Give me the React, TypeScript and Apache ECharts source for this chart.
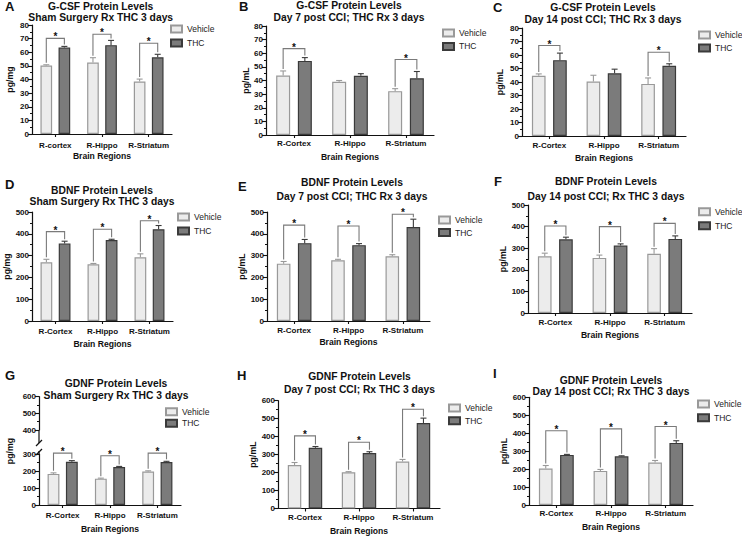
import React, { useEffect, useRef } from 'react';
import * as echarts from 'echarts';

const FONT = '"Liberation Sans", Arial, Helvetica, sans-serif';

// ---- categories ----
const CATS_A = ['R-cortex', 'R-Hippo', 'R-Striatum'];
const CATS = ['R-Cortex', 'R-Hippo', 'R-Striatum'];
const SERIES_NAMES = ['Vehicle', 'THC'];

// ---- A: G-CSF sham ----
const A_VEH = [50.2, 52.4, 38.5];
const A_VEH_ERR = [50.8, 56.0, 40.3];
const A_THC = [63.4, 65.2, 56.3];
const A_THC_ERR = [64.3, 68.7, 58.5];
const A_SIG = [70.2, 73.2, 66.6];

// ---- B: G-CSF day 7 ----
const B_VEH = [43.7, 39.0, 32.2];
const B_VEH_ERR = [47.0, 40.0, 34.0];
const B_THC = [54.4, 43.4, 41.7];
const B_THC_ERR = [56.8, 45.0, 46.6];
const B_SIG = [63.4, null, 55.4];

// ---- C: G-CSF day 14 ----
const C_VEH = [44.6, 40.4, 38.6];
const C_VEH_ERR = [46.0, 45.0, 43.0];
const C_THC = [56.2, 46.5, 52.0];
const C_THC_ERR = [61.4, 49.5, 53.5];
const C_SIG = [67.0, null, 62.0];

// ---- D: BDNF sham ----
const D_VEH = [269, 260, 292];
const D_VEH_ERR = [283, 264, 308];
const D_THC = [356, 371, 421];
const D_THC_ERR = [366, 375, 438];
const D_SIG = [410, 421, 460];

// ---- E: BDNF day 7 ----
const E_VEH = [263, 279, 297];
const E_VEH_ERR = [273, 283, 304];
const E_THC = [357, 348, 431];
const E_THC_ERR = [374, 355, 467];
const E_SIG = [440, 436, 490];

// ---- F: BDNF day 14 ----
const F_VEH = [263, 255, 274];
const F_VEH_ERR = [277, 268, 298];
const F_THC = [341, 312, 343];
const F_THC_ERR = [351, 320, 357];
const F_SIG = [403, 400, 415];

// ---- G: GDNF sham ----
const G_VEH = [183, 155, 197];
const G_VEH_ERR = [189, 158, 201];
const G_THC = [254, 223, 253];
const G_THC_ERR = [261, 227, 257];
const G_SIG = [305, 290, 305];

// ---- H: GDNF day 7 ----
const H_VEH = [242, 202, 262];
const H_VEH_ERR = [256, 205, 273];
const H_THC = [338, 309, 476];
const H_THC_ERR = [345, 316, 503];
const H_SIG = [404, 369, 552];

// ---- I: GDNF day 14 ----
const I_VEH = [203, 190, 237];
const I_VEH_ERR = [220, 198, 248];
const I_THC = [279, 271, 346];
const I_THC_ERR = [282, 274, 358];
const I_SIG = [414, 424, 437];

// ---- tick settings ----
const GCSF_MAX = 80, GCSF_STEP = 10;
const BDNF_MAX = 500, BDNF_STEP = 100;
const GDNF_MAX = 600, GDNF_STEP = 100;
const G_LOWER_MAX = 300, G_UPPER_MIN = 400;

const BAR_W = 0.25;
const BAR_GAP = 0.55;

const VEH_FILL = '#ececec', VEH_LINE = '#999999';
const THC_FILL = '#7b7b7b', THC_LINE = '#3a3a3a';
const BRACKET = '#7a7a7a';
const INK = '#111111';

const panels = [
  { letter: 'A', lp: [5, 6.5], title: ['G-CSF Protein Levels', 'Sham Surgery Rx THC 3 days'], tp: [100.7, 6, 17.5],
    cats: CATS_A, unit: 'pg/mg', veh: A_VEH, vehErr: A_VEH_ERR, thc: A_THC, thcErr: A_THC_ERR, sig: A_SIG,
    max: GCSF_MAX, step: GCSF_STEP, grid: [32, 25, 140, 109], leg: [170, 24, 4], yGap: 18, lblM: 7, xGap: 17.5 },
  { letter: 'B', lp: [239, 6.5], title: ['G-CSF Protein Levels', 'Day 7 post CCI; THC Rx 3 days'], tp: [349, 5.7, 17.3],
    cats: CATS, unit: 'pg/mL', veh: B_VEH, vehErr: B_VEH_ERR, thc: B_THC, thcErr: B_THC_ERR, sig: B_SIG,
    max: GCSF_MAX, step: GCSF_STEP, grid: [266, 26, 168, 109], leg: [442, 28, 3.4], yGap: 15, lblM: 4.5, xGap: 17 },
  { letter: 'C', lp: [493, 7], title: ['G-CSF Protein Levels', 'Day 14 post CCI; THC Rx 3 days'], tp: [603, 7.3, 19.3],
    cats: CATS, unit: 'pg/mL', veh: C_VEH, vehErr: C_VEH_ERR, thc: C_THC, thcErr: C_THC_ERR, sig: C_SIG,
    max: GCSF_MAX, step: GCSF_STEP, grid: [522, 28, 164, 108], leg: [698, 30, 3], yGap: 18, lblM: 5.5, xGap: 17 },
  { letter: 'D', lp: [5, 184], title: ['BDNF Protein Levels', 'Sham Surgery Rx THC 3 days'], tp: [102, 190, 201.7],
    cats: CATS, unit: 'pg/mg', veh: D_VEH, vehErr: D_VEH_ERR, thc: D_THC, thcErr: D_THC_ERR, sig: D_SIG,
    max: BDNF_MAX, step: BDNF_STEP, grid: [32, 212, 141, 109], leg: [177, 212, 4], yGap: 20, lblM: 6, xGap: 18 },
  { letter: 'E', lp: [238, 186], title: ['BDNF Protein Levels', 'Day 7 post CCI; THC Rx 3 days'], tp: [352, 182.3, 196.7],
    cats: CATS, unit: 'pg/mL', veh: E_VEH, vehErr: E_VEH_ERR, thc: E_THC, thcErr: E_THC_ERR, sig: E_SIG,
    max: BDNF_MAX, step: BDNF_STEP, grid: [267, 212, 163, 109], leg: [438, 215, 2.5], yGap: 19, lblM: 5, xGap: 16.5 },
  { letter: 'F', lp: [494, 181.7], title: ['BDNF Protein Levels', 'Day 14 post CCI; Rx THC 3 days'], tp: [606, 181.7, 196],
    cats: CATS, unit: 'pg/mL', veh: F_VEH, vehErr: F_VEH_ERR, thc: F_THC, thcErr: F_THC_ERR, sig: F_SIG,
    max: BDNF_MAX, step: BDNF_STEP, grid: [528, 205, 164, 108], leg: [698, 206.7, 4], yGap: 18, lblM: 5, xGap: 17 },
  { letter: 'G', lp: [5, 375], title: ['GDNF Protein Levels', 'Sham Surgery Rx THC 3 days'], tp: [116, 383.3, 395.7],
    cats: CATS, unit: '', veh: G_VEH, vehErr: G_VEH_ERR, thc: G_THC, thcErr: G_THC_ERR, sig: G_SIG,
    max: G_LOWER_MAX, step: GDNF_STEP, grid: [39, 454, 142, 51], leg: [165, 406.7, 1.6], yGap: 20, lblM: 6, xGap: 19 },
  { letter: 'H', lp: [237, 375], title: ['GDNF Protein Levels', 'Day 7 post CCI; Rx THC 3 days'], tp: [359.5, 376, 389.3],
    cats: CATS, unit: 'pg/mL', veh: H_VEH, vehErr: H_VEH_ERR, thc: H_THC, thcErr: H_THC_ERR, sig: H_SIG,
    max: GDNF_MAX, step: GDNF_STEP, grid: [278, 400.7, 162, 108.3], leg: [448, 403, 2.7], yGap: 20, lblM: 5, xGap: 17.5 },
  { letter: 'I', lp: [493, 373], title: ['GDNF Protein Levels', 'Day 14 post CCI; Rx THC 3 days'], tp: [611, 380, 391.7],
    cats: CATS, unit: 'pg/mL', veh: I_VEH, vehErr: I_VEH_ERR, thc: I_THC, thcErr: I_THC_ERR, sig: I_SIG,
    max: GDNF_MAX, step: GDNF_STEP, grid: [529, 397.3, 164, 107.7], leg: [697, 399, 3.7], yGap: 21, lblM: 4.5, xGap: 17 },
];

function barOffset(api: any) {
  const band = api.size([1, 0])[0];
  const w = band * BAR_W;
  return w * (1 + BAR_GAP) / 2;
}

function errorRender(sign: number, color: string) {
  return (params: any, api: any) => {
    const cat = api.value(0);
    const lo = api.coord([cat, api.value(1)]);
    const hi = api.coord([cat, api.value(2)]);
    const x = lo[0] + sign * barOffset(api);
    return {
      type: 'group',
      children: [
        { type: 'line', shape: { x1: x, y1: lo[1], x2: x, y2: hi[1] }, style: { stroke: color, lineWidth: 1.1 } },
        { type: 'line', shape: { x1: x - 3, y1: hi[1], x2: x + 3, y2: hi[1] }, style: { stroke: color, lineWidth: 1.1 } },
      ],
    };
  };
}

function bracketRender(params: any, api: any) {
  const cat = api.value(0);
  const off = barOffset(api);
  const top = api.coord([cat, api.value(3)]);
  const vL = api.coord([cat, api.value(1)]);
  const tL = api.coord([cat, api.value(2)]);
  const xl = top[0] - off;
  const xr = top[0] + off;
  const y = top[1];
  return {
    type: 'group',
    children: [
      { type: 'polyline', shape: { points: [[xl, vL[1] - 2], [xl, y], [xr, y], [xr, tL[1] - 2]] },
        style: { stroke: BRACKET, lineWidth: 1.1, fill: 'none' } },
      { type: 'text', x: top[0], y: y - 1.5,
        style: { text: '*', textAlign: 'center', textVerticalAlign: 'middle', font: `bold 10px ${FONT}`, fill: INK } },
    ],
  };
}

function buildOption() {
  const grid: any[] = [];
  const xAxis: any[] = [];
  const yAxis: any[] = [];
  const series: any[] = [];
  const legend: any[] = [];
  const graphic: any[] = [];

  const axisLine = { show: true, lineStyle: { color: INK, width: 1.2 } };
  const labelStyle = { fontSize: 8, fontWeight: 'bold', color: INK, fontFamily: FONT };

  panels.forEach((p, i) => {
    grid.push({ left: p.grid[0], top: p.grid[1], width: p.grid[2], height: p.grid[3] });
    xAxis.push({
      type: 'category', gridIndex: i, data: p.cats,
      axisLine, axisTick: { show: true, alignWithLabel: true, length: 3, lineStyle: { color: INK, width: 1.1 } },
      axisLabel: { ...labelStyle, interval: 0, margin: p.lblM },
      name: 'Brain Regions', nameLocation: 'middle', nameGap: p.xGap,
      nameTextStyle: { fontSize: 8.6, fontWeight: 'bold', color: INK, fontFamily: FONT },
    });
    yAxis.push({
      type: 'value', gridIndex: i, min: 0, max: p.max, interval: p.step,
      axisLine, splitLine: { show: false },
      axisTick: { show: true, length: 4, lineStyle: { color: INK, width: 1.1 } },
      minorTick: { show: true, splitNumber: 2, length: 2, lineStyle: { color: INK, width: 1 } },
      axisLabel: { ...labelStyle, margin: 3 },
      name: p.unit, nameLocation: 'middle', nameGap: p.yGap,
      nameTextStyle: { fontSize: 8.8, fontWeight: 'bold', color: INK, fontFamily: FONT },
    });
    series.push({
      type: 'bar', name: 'Vehicle', xAxisIndex: i, yAxisIndex: i, data: p.veh,
      barWidth: `${BAR_W * 100}%`, barGap: `${BAR_GAP * 100}%`,
      itemStyle: { color: VEH_FILL, borderColor: VEH_LINE, borderWidth: 1.2 },
    });
    series.push({
      type: 'bar', name: 'THC', xAxisIndex: i, yAxisIndex: i, data: p.thc,
      barWidth: `${BAR_W * 100}%`, barGap: `${BAR_GAP * 100}%`,
      itemStyle: { color: THC_FILL, borderColor: THC_LINE, borderWidth: 1.2 },
    });
    series.push({
      type: 'custom', xAxisIndex: i, yAxisIndex: i, clip: false, z: 5,
      data: p.veh.map((v, k) => [k, v, p.vehErr[k]]), encode: { x: 0, y: 2 },
      renderItem: errorRender(-1, VEH_LINE),
    });
    series.push({
      type: 'custom', xAxisIndex: i, yAxisIndex: i, clip: false, z: 5,
      data: p.thc.map((v, k) => [k, v, p.thcErr[k]]), encode: { x: 0, y: 2 },
      renderItem: errorRender(1, THC_LINE),
    });
    const sigData: any[] = [];
    p.sig.forEach((s, k) => {
      if (s !== null) sigData.push([k, p.vehErr[k], p.thcErr[k], s]);
    });
    series.push({
      type: 'custom', xAxisIndex: i, yAxisIndex: i, clip: false, z: 6,
      data: sigData, encode: { x: 0, y: 3 },
      renderItem: bracketRender,
    });
    legend.push({
      data: SERIES_NAMES.map((n) => ({ name: n, textStyle: { color: '#222222' } })),
      orient: 'vertical', left: p.leg[0], top: p.leg[1], itemGap: p.leg[2],
      itemWidth: 11, itemHeight: 7, selectedMode: false, icon: 'rect', padding: 0,
      inactiveColor: '#cccccc',
      textStyle: { fontSize: 8.5, color: '#222222', fontFamily: FONT, lineHeight: 10 },
    });
    graphic.push({ type: 'text', x: p.lp[0], y: p.lp[1],
      style: { text: p.letter, textAlign: 'left', textVerticalAlign: 'middle', font: `bold 13px ${FONT}`, fill: INK } });
    graphic.push({ type: 'text', x: p.tp[0], y: p.tp[1],
      style: { text: p.title[0], textAlign: 'center', textVerticalAlign: 'middle', font: `bold 10.3px ${FONT}`, fill: INK } });
    graphic.push({ type: 'text', x: p.tp[0], y: p.tp[2],
      style: { text: p.title[1], textAlign: 'center', textVerticalAlign: 'middle', font: `bold 10.3px ${FONT}`, fill: INK } });
  });

  // G upper (broken) axis segment
  const gi = panels.length;
  const gp = panels[6];
  grid.push({ left: gp.grid[0], top: 396.7, width: gp.grid[2], height: 33.3 });
  xAxis.push({ type: 'category', gridIndex: gi, data: gp.cats, show: false });
  yAxis.push({
    type: 'value', gridIndex: gi, min: G_UPPER_MIN, max: GDNF_MAX, interval: GDNF_STEP,
    axisLine: { show: true, lineStyle: { color: INK, width: 1.2 } }, splitLine: { show: false },
    axisTick: { show: true, length: 4, lineStyle: { color: INK, width: 1.1 } },
    minorTick: { show: true, splitNumber: 2, length: 2, lineStyle: { color: INK, width: 1 } },
    axisLabel: { fontSize: 8, fontWeight: 'bold', color: INK, fontFamily: FONT, margin: 3 },
  });
  const ax = gp.grid[0];
  graphic.push({ type: 'line', shape: { x1: ax, y1: 430, x2: ax, y2: 443 }, style: { stroke: INK, lineWidth: 1.2 } });
  graphic.push({ type: 'line', shape: { x1: ax - 3, y1: 446, x2: ax + 3, y2: 440 }, style: { stroke: INK, lineWidth: 1.2 } });
  graphic.push({ type: 'line', shape: { x1: ax - 3, y1: 455, x2: ax + 3, y2: 449 }, style: { stroke: INK, lineWidth: 1.2 } });
  graphic.push({ type: 'line', shape: { x1: ax, y1: 454, x2: ax, y2: 451 }, style: { stroke: INK, lineWidth: 1.2 } });
  graphic.push({ type: 'text', x: 9.5, y: 451, rotation: Math.PI / 2,
    style: { text: 'pg/mg', textAlign: 'center', textVerticalAlign: 'middle', font: `bold 8.8px ${FONT}`, fill: INK } });

  return {
    animation: false,
    backgroundColor: '#ffffff',
    textStyle: { fontFamily: FONT },
    grid, xAxis, yAxis, series, legend, graphic,
  };
}

export default function App() {
  const ref = useRef<HTMLDivElement>(null);
  useEffect(() => {
    if (!ref.current) return;
    const chart = echarts.init(ref.current, null, { renderer: 'svg' });
    chart.setOption(buildOption() as any);
    return () => chart.dispose();
  }, []);
  return (
    <div
      ref={ref}
      style={{ position: 'fixed', left: 0, top: 0, width: 742, height: 536, background: '#fff' }}
    />
  );
}
